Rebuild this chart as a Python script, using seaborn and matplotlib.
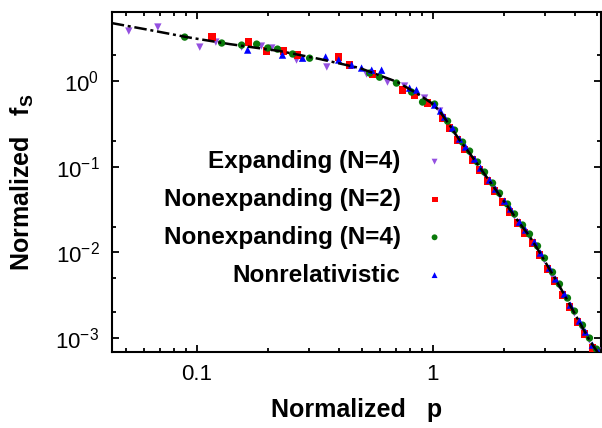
import numpy as np
import pandas as pd
import matplotlib
matplotlib.use("Agg")
import matplotlib.pyplot as plt
from matplotlib.ticker import LogLocator, FixedLocator, NullFormatter, FixedFormatter
import seaborn as sns

# black dash-dot reference curve
curve_p = [0.0436, 0.0632, 0.0907, 0.138, 0.225, 0.332, 0.491, 0.711, 0.881, 0.991,
           1.071, 1.18, 1.301, 1.435, 1.582, 1.744, 1.922, 2.12, 2.337, 2.576,
           2.84, 3.131, 3.452, 3.806, 4.196, 4.627, 5.101]
curve_f = [4.75, 3.94, 3.26, 2.70, 2.24, 1.81, 1.42, 0.973, 0.687, 0.553,
           0.447, 0.307, 0.205, 0.1445, 0.0992, 0.0681, 0.0468, 0.0321, 0.0220, 0.01553,
           0.01011, 0.0064, 0.00406, 0.0025, 0.00154, 0.00095, 0.000635]

exp4_p = [0.0515, 0.0684, 0.103, 0.1205, 0.155, 0.188, 0.208, 0.265, 0.356, 0.525, 0.644,
          0.761, 0.925, 1.071, 1.239, 1.340, 1.435, 1.661, 1.796, 1.922, 2.226, 2.407, 2.576,
          2.982, 3.225, 3.452, 3.997, 4.322, 4.627, 5.00]
exp4_f = [3.83, 4.27, 2.49, 2.85, 2.49, 2.56, 2.43, 1.76, 1.46, 1.21, 0.973,
          0.875, 0.633, 0.447, 0.254, 0.1816, 0.1445, 0.0822, 0.0588, 0.0468, 0.0266, 0.0190, 0.01553,
          0.00815, 0.00531, 0.00406, 0.00196, 0.001277, 0.00095, 0.000707]

non2_p = [0.116, 0.166, 0.198, 0.234, 0.268, 0.400, 0.445, 0.557, 0.746, 0.839,
          0.952, 1.102, 1.180, 1.276, 1.366, 1.477, 1.582, 1.711, 1.831, 1.980, 2.120, 2.292,
          2.454, 2.653, 2.840, 3.071, 3.288, 3.555, 3.806, 4.116, 4.406, 4.764]
non2_f = [3.26, 2.85, 2.24, 2.24, 2.01, 1.91, 1.54, 1.21, 0.785, 0.687,
          0.554, 0.370, 0.283, 0.205, 0.159, 0.1197, 0.0915, 0.0681, 0.0521, 0.0387, 0.0296, 0.0220,
          0.01684, 0.01288, 0.00933, 0.0064, 0.00464, 0.00318, 0.00231, 0.00154, 0.001117, 0.000766]

non4_p = [0.0889, 0.1276, 0.155, 0.1795, 0.200, 0.220, 0.255, 0.301, 0.541, 0.596, 0.703, 0.815, 0.907,
          1.020, 1.158, 1.239, 1.340, 1.435, 1.551, 1.661, 1.796, 1.922, 2.079, 2.226, 2.407,
          2.576, 2.786, 2.982, 3.225, 3.452, 3.733, 3.997, 4.322, 4.627, 4.954]
non4_f = [3.26, 2.78, 2.63, 2.70, 2.43, 2.36, 2.07, 1.85, 1.24, 1.11, 0.948, 0.744, 0.569,
          0.539, 0.341, 0.268, 0.194, 0.1525, 0.1135, 0.0867, 0.0646, 0.0493, 0.0367, 0.0281, 0.0209,
          0.0164, 0.0119, 0.00861, 0.0059, 0.00428, 0.00294, 0.00207, 0.00142, 0.001003, 0.000746]

nonrel_p = [0.1644, 0.231, 0.281, 0.352, 0.400, 0.454, 0.500, 0.552, 0.608, 0.799, 0.855, 1.020,
            1.081, 1.124, 1.215, 1.301, 1.380, 1.507, 1.597, 1.744, 1.849, 2.019, 2.141, 2.337,
            2.478, 2.705, 2.868, 3.131, 3.320, 3.625, 3.844, 4.196, 4.450, 4.764, 5.051]
nonrel_f = [2.30, 2.01, 1.85, 1.91, 1.76, 1.54, 1.42, 1.34, 1.34, 0.828, 0.785, 0.525,
            0.447, 0.380, 0.283, 0.2105, 0.170, 0.123, 0.0966, 0.070, 0.0549, 0.0398, 0.0321, 0.0226,
            0.01826, 0.01322, 0.00984, 0.00658, 0.0049, 0.00327, 0.00243, 0.001584, 0.00118, 0.000831, 0.00069]

sns.set_style("ticks")
plt.rcParams['font.family'] = ['Liberation Sans', 'DejaVu Sans']
plt.rcParams['mathtext.fontset'] = 'custom'
plt.rcParams['mathtext.rm'] = 'Liberation Sans'
plt.rcParams['mathtext.it'] = 'Liberation Sans:italic'
plt.rcParams['mathtext.bf'] = 'Liberation Sans:bold'
plt.rcParams['axes.unicode_minus'] = False
for k in ['text.color', 'axes.labelcolor', 'xtick.color', 'ytick.color', 'axes.edgecolor']:
    plt.rcParams[k] = 'black'

fig = plt.figure(figsize=(6.02, 4.28), dpi=100)
ax = fig.add_axes([0.186, 0.1776, 0.813, 0.7944])

series = [
    ("Expanding (N=4)", exp4_p, exp4_f, "v", "#9450e0"),
    ("Nonexpanding (N=2)", non2_p, non2_f, "s", "#ff0000"),
    ("Nonexpanding (N=4)", non4_p, non4_f, "o", "#0a7a0a"),
    ("Nonrelativistic", nonrel_p, nonrel_f, "^", "#0000ff"),
]
for name, p, f, m, c in series:
    sns.scatterplot(x=p, y=f, marker=m, color=c, s=28, edgecolor='none',
                    label=name, ax=ax, zorder=3)

sns.lineplot(x=curve_p, y=curve_f, color='black', lw=1.8, ax=ax, zorder=4,
             estimator=None, sort=True)
ax.lines[-1].set_linestyle((0, (5, 1.5, 1.2, 1.5)))

ax.set_xscale('log')
ax.set_yscale('log')
ax.set_xlim(0.0437, 5.2)
ax.set_ylim(6.9e-4, 6.4)

ax.xaxis.set_major_locator(FixedLocator([0.1, 1]))
ax.xaxis.set_major_formatter(FixedFormatter(['0.1', '1']))
ax.xaxis.set_minor_locator(LogLocator(base=10, subs=np.arange(2, 10)))
ax.xaxis.set_minor_formatter(NullFormatter())
ax.yaxis.set_major_locator(FixedLocator([1e-3, 1e-2, 1e-1, 1]))
ax.yaxis.set_major_formatter(FixedFormatter(['$10^{-3}$', '$10^{-2}$', '$10^{-1}$', '$10^{0}$']))
ax.yaxis.set_minor_locator(FixedLocator([2, 0.2, 0.02, 0.005, 0.002]))
ax.yaxis.set_minor_formatter(NullFormatter())

for s in ax.spines.values():
    s.set_linewidth(1.5)
ax.tick_params(which='both', direction='in', top=True, right=True, width=1.3, labelsize=16)
ax.tick_params(which='major', length=5)
ax.tick_params(which='minor', length=3)
ax.tick_params(axis='x', pad=9)
ax.tick_params(axis='y', pad=9)

ax.set_xlabel('Normalized   p', fontsize=18, fontweight='bold', labelpad=9)
ax.set_ylabel(r'Normalized   $\mathbf{f}_{\mathbf{S}}$', fontsize=18, fontweight='bold', labelpad=14)

leg = ax.legend(loc='upper right', bbox_to_anchor=(0.679, 0.594), frameon=False,
                markerfirst=False, prop={'weight': 'bold', 'size': 17.5},
                handlelength=0.8, handletextpad=1.0, labelspacing=0.61,
                borderpad=0, borderaxespad=0, markerscale=0.8)

fig.savefig('out.png', dpi=100)
